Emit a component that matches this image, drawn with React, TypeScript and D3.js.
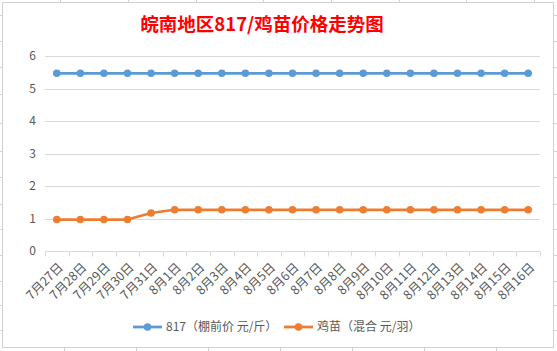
import React, { useRef, useEffect } from 'react';
import * as d3 from 'd3';

const dates = [
  '7月27日', '7月28日', '7月29日', '7月30日', '7月31日', '8月1日', '8月2日', '8月3日', '8月4日', '8月5日', '8月6日',
  '8月7日', '8月8日', '8月9日', '8月10日', '8月11日', '8月12日', '8月13日', '8月14日', '8月15日', '8月16日',
];
const price817 = [5.5, 5.5, 5.5, 5.5, 5.5, 5.5, 5.5, 5.5, 5.5, 5.5, 5.5, 5.5, 5.5, 5.5, 5.5, 5.5, 5.5, 5.5, 5.5, 5.5, 5.5];
const chickPrice = [1, 1, 1, 1, 1.2, 1.3, 1.3, 1.3, 1.3, 1.3, 1.3, 1.3, 1.3, 1.3, 1.3, 1.3, 1.3, 1.3, 1.3, 1.3, 1.3];
const yTicks = [0, 1, 2, 3, 4, 5, 6];
const seriesNames = ['817（棚前价 元/斤）', '鸡苗（混合 元/羽）'];
const title = '皖南地区817/鸡苗价格走势图';

const blue = '#5B9BD5';
const orange = '#ED7D31';
const grid = '#D9D9D9';
const textColor = '#595959';
const font = '"Noto Sans CJK SC", "Noto Sans", sans-serif';

// spreadsheet cell lines behind the chart object
const sheetRows = [15, 41, 67, 94, 123, 151, 177, 204, 229, 255, 281, 305, 330];
const sheetColsTop = [60, 128, 196, 263, 331, 399, 466, 534];
const sheetColsBottom = [64, 136, 208, 280, 352, 424, 496];

export default function App() {
  const svgRef = useRef<SVGSVGElement>(null);

  useEffect(() => {
    document.body.style.margin = '0';
    const width = 557;
    const height = 351;
    const marginLeft = 45;
    const marginRight = 17;
    const top = 57;
    const bottom = 252;

    const svg = d3.select(svgRef.current);
    svg.selectAll('*').remove();
    svg.attr('width', width).attr('height', height).style('font-family', font);

    svg.append('rect').attr('width', width).attr('height', height).attr('fill', '#fff');

    // sheet grid peeking around the chart
    const sheet = svg.append('g').attr('stroke', '#D4D4D4').attr('stroke-width', 1);
    sheetRows.forEach(y => {
      sheet.append('line').attr('x1', 0).attr('x2', 3).attr('y1', y + 0.5).attr('y2', y + 0.5);
      sheet.append('line').attr('x1', 554).attr('x2', width).attr('y1', y + 0.5).attr('y2', y + 0.5);
    });
    sheetColsTop.forEach(x => sheet.append('line').attr('x1', x + 0.5).attr('x2', x + 0.5).attr('y1', 0).attr('y2', 3));
    sheetColsBottom.forEach(x => sheet.append('line').attr('x1', x + 0.5).attr('x2', x + 0.5).attr('y1', 348).attr('y2', height));

    // chart frame
    svg.append('rect')
      .attr('x', 2.5).attr('y', 2.5).attr('width', 551).attr('height', 345)
      .attr('fill', '#fff').attr('stroke', '#D0D0D0');

    svg.append('text')
      .attr('x', 262).attr('y', 31)
      .attr('text-anchor', 'middle')
      .attr('fill', '#FF0000')
      .attr('font-size', '18.5px')
      .attr('font-weight', 'bold')
      .text(title);

    const x = d3.scaleBand<string>()
      .domain(dates)
      .range([marginLeft, width - marginRight]);

    const y = d3.scaleLinear().domain([0, 6]).range([bottom, top]);

    const cx = (d: string) => (x(d) as number) + x.bandwidth() / 2;

    // gridlines
    svg.append('g')
      .selectAll('line')
      .data(yTicks.slice(1))
      .join('line')
      .attr('x1', marginLeft).attr('x2', width - marginRight)
      .attr('y1', d => Math.round(y(d)) - 0.5).attr('y2', d => Math.round(y(d)) - 0.5)
      .attr('stroke', grid);

    // y labels
    svg.append('g')
      .selectAll('text')
      .data(yTicks)
      .join('text')
      .attr('x', 36)
      .attr('y', d => y(d) + 3)
      .attr('text-anchor', 'end')
      .attr('fill', textColor)
      .attr('font-size', '12px')
      .text(d => d);

    // x axis
    const xAxis = svg.append('g').attr('transform', `translate(0,${Math.round(bottom) - 0.5})`);
    xAxis.append('line').attr('x1', marginLeft).attr('x2', width - marginRight).attr('stroke', grid);
    xAxis.selectAll('line.tick')
      .data(d3.range(dates.length + 1))
      .join('line')
      .attr('class', 'tick')
      .attr('x1', i => Math.round(marginLeft + i * x.step()) + 0.5)
      .attr('x2', i => Math.round(marginLeft + i * x.step()) + 0.5)
      .attr('y1', 0).attr('y2', 5)
      .attr('stroke', grid);

    svg.append('g')
      .selectAll('text')
      .data(dates)
      .join('text')
      .attr('transform', d => `translate(${cx(d) + 4},${bottom + 13}) rotate(-45)`)
      .attr('text-anchor', 'end')
      .attr('dy', '0.35em')
      .attr('fill', textColor)
      .attr('font-size', '12.5px')
      .text(d => d);

    const line = d3.line<number>()
      .x((_, i) => cx(dates[i]))
      .y(d => y(d));

    [[price817, blue], [chickPrice, orange]].forEach(([values, color]) => {
      const vals = values as number[];
      svg.append('path')
        .datum(vals)
        .attr('d', line)
        .attr('fill', 'none')
        .attr('stroke', color as string)
        .attr('stroke-width', 2.75)
        .attr('stroke-linejoin', 'round');
      svg.append('g')
        .selectAll('circle')
        .data(vals)
        .join('circle')
        .attr('cx', (_, i) => cx(dates[i]))
        .attr('cy', d => y(d))
        .attr('r', 3.8)
        .attr('fill', color as string);
    });

    // legend
    const legend = svg.append('g').attr('transform', 'translate(0,327)');
    const items = [
      { name: seriesNames[0], color: blue, x: 133 },
      { name: seriesNames[1], color: orange, x: 284 },
    ];
    items.forEach(it => {
      const g = legend.append('g').attr('transform', `translate(${it.x},0)`);
      g.append('line').attr('x1', 0).attr('x2', 29).attr('stroke', it.color).attr('stroke-width', 2.75);
      g.append('circle').attr('cx', 14.5).attr('r', 3.8).attr('fill', it.color);
      g.append('text')
        .attr('x', 33).attr('dy', '0.36em')
        .attr('fill', textColor)
        .attr('font-size', '12px')
        .text(it.name);
    });
  }, []);

  return <svg ref={svgRef} style={{ display: 'block' }}></svg>;
}
